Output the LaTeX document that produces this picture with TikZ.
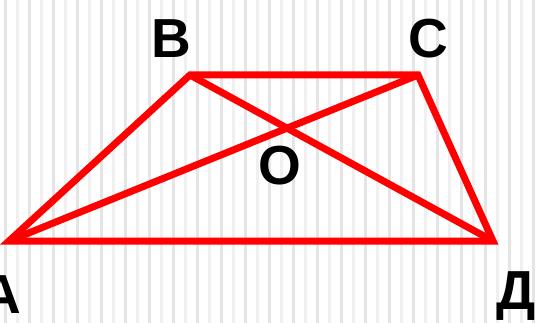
\documentclass[tikz,border=0pt]{standalone}
\usepackage{fontspec}
\setmainfont{Liberation Sans}
\begin{document}
\begin{tikzpicture}[x=1pt,y=-1pt,
  edge/.style={draw=red,line width=7pt,line join=miter},
  lbl/.style={font=\fontsize{55}{55}\selectfont\bfseries,inner sep=0pt,anchor=base,text=black}]
\useasboundingbox (0,0) rectangle (543,323);
\fill[white] (0,0) rectangle (543,323);
\foreach \i in {0,...,22}{
  \fill[gray!20] ({5+24*\i-1.5},0) rectangle ({5+24*\i+1.5},323);
  \fill[gray!12] ({17.5+24*\i-1.5},0) rectangle ({17.5+24*\i+1.5},323);
}
\coordinate (A) at (9,241);
\coordinate (B) at (190,75);
\coordinate (C) at (418,75);
\coordinate (D) at (493,241);
\draw[edge] (A) -- (B) -- (C) -- (D) -- cycle;
\draw[edge] (A) -- (C);
\draw[edge] (B) -- (D);
\node[lbl] (lB) at (171,58) {B};
\node[lbl] (lC) at (428,58) {C};
\node[lbl] (lO) at (280,185) {O};
\node[lbl] (lA) at (1,313) {A};
\node[lbl] (lD) at (516,309) {Д};
\end{tikzpicture}
\end{document}
